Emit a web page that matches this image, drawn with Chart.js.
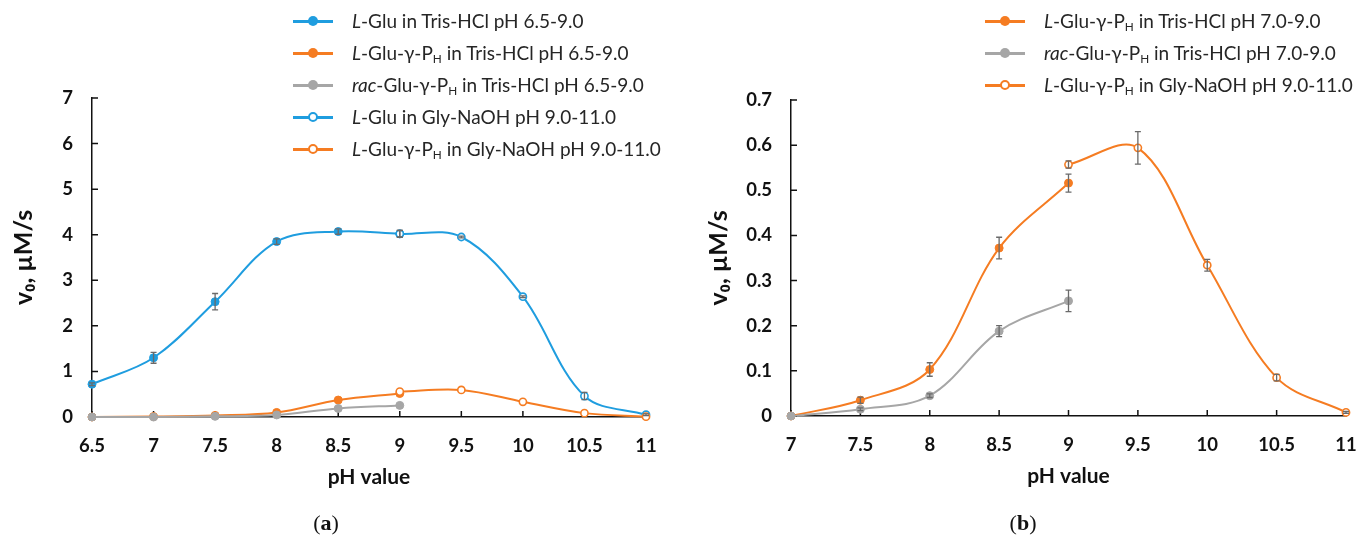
<!DOCTYPE html>
<html>
<head>
<meta charset="utf-8">
<script src="https://cdn.jsdelivr.net/npm/chart.js@4.4.1/dist/chart.umd.min.js"></script>
<style>
    body { margin: 0; width: 1357px; height: 546px; overflow: hidden; background: #fff; position: relative; font-family: Lato, sans-serif; }
    canvas { position: absolute; top: 0; }
    #chart-a { left: 0; }
    #chart-b { left: 680px; }
    .legend { position: absolute; top: 0; font-family: Lato, sans-serif; font-size: 19px; color: #262626; }
    .legend-item { position: absolute; left: 0; white-space: nowrap; height: 22px; line-height: 22px; }
    .swatch { position: absolute; left: 0; top: 10px; width: 40px; height: 2.5px; }
    .dot { position: absolute; left: 15px; top: -4px; width: 10px; height: 10px; border-radius: 50%; box-sizing: border-box; }
    .legend-text { position: absolute; left: 59px; top: 0; }
    .legend-text sub { font-size: 0.62em; vertical-align: -0.25em; line-height: 0; }
    .caption { position: absolute; top: 510px; font-family: "Liberation Serif", serif; font-size: 22px; color: #111; transform: translateX(-50%); }
</style>
</head>
<body>
<canvas id="chart-a" width="680" height="546"></canvas>
<canvas id="chart-b" width="700" height="546"></canvas>
<div class="legend" id="legend-a" style="left:293px"></div>
<div class="legend" id="legend-b" style="left:985px"></div>
<div class="caption" style="left:326px">(<b>a</b>)</div>
<div class="caption" style="left:1023px">(<b>b</b>)</div>
<script>
// pH values
const phTrisA = [6.5, 7, 7.5, 8, 8.5, 9];
const phTrisB = [7, 7.5, 8, 8.5, 9];
const phGly = [9, 9.5, 10, 10.5, 11];

// panel (a) values, uM/s
const gluTrisA = [0.72, 1.30, 2.53, 3.85, 4.07, 4.02];
const gluTrisErrA = [0.03, 0.12, 0.18, 0.06, 0.06, 0.07];
const phTrisValsA = [0, 0.01, 0.035, 0.10, 0.372, 0.516];
const racTrisA = [0, 0, 0.015, 0.045, 0.188, 0.255];
const gluGly = [4.02, 3.95, 2.64, 0.46, 0.05];
const gluGlyErr = [0.08, 0.02, 0.02, 0.08, 0.02];

// panel (b) values, uM/s
const phTrisVals = [0, 0.035, 0.103, 0.372, 0.516];
const phTrisErr = [0, 0.007, 0.015, 0.024, 0.02];
const racTris = [0, 0.015, 0.045, 0.188, 0.255];
const racTrisErr = [0, 0.003, 0.004, 0.012, 0.024];
const phGlyVals = [0.557, 0.594, 0.334, 0.085, 0.008];
const phGlyErr = [0.008, 0.036, 0.013, 0.007, 0.002];

// ticks
const xTicksA = [6.5, 7, 7.5, 8, 8.5, 9, 9.5, 10, 10.5, 11];
const yTicksA = [0, 1, 2, 3, 4, 5, 6, 7];
const xTicksB = [7, 7.5, 8, 8.5, 9, 9.5, 10, 10.5, 11];
const yTicksB = [0, 0.1, 0.2, 0.3, 0.4, 0.5, 0.6, 0.7];

// legend labels
const legendA = [
    '<i>L</i>-Glu in Tris-HCl pH 6.5-9.0',
    '<i>L</i>-Glu-\u03b3-P<sub>H</sub> in Tris-HCl pH 6.5-9.0',
    '<i>rac</i>-Glu-\u03b3-P<sub>H</sub> in Tris-HCl pH 6.5-9.0',
    '<i>L</i>-Glu in Gly-NaOH pH 9.0-11.0',
    '<i>L</i>-Glu-\u03b3-P<sub>H</sub> in Gly-NaOH pH 9.0-11.0'
];
const legendB = [
    '<i>L</i>-Glu-\u03b3-P<sub>H</sub> in Tris-HCl pH 7.0-9.0',
    '<i>rac</i>-Glu-\u03b3-P<sub>H</sub> in Tris-HCl pH 7.0-9.0',
    '<i>L</i>-Glu-\u03b3-P<sub>H</sub> in Gly-NaOH pH 9.0-11.0'
];

const BLUE = '#1f9ddf';
const ORANGE = '#f57c22';
const GRAY = '#a6a6a6';
const ERR = '#6a6a6a';

function series(xs, ys, errs, color, open, order) {
    return {
        data: xs.map((x, i) => ({ x: x, y: ys[i] })),
        errors: errs,
        color: color,
        open: open,
        borderColor: color,
        borderWidth: 2,
        pointRadius: open ? 3.6 : 4,
        pointBorderWidth: open ? 1.6 : 1,
        pointBorderColor: color,
        pointBackgroundColor: open ? '#fff' : color,
        tension: 0.35,
        clip: false,
        order: order
    };
}

// error bars from the dataset's errors array
const errorBars = {
    id: 'errorBars',
    afterDatasetsDraw(chart) {
        const ctx = chart.ctx;
        const y = chart.scales.y;
        ctx.save();
        ctx.strokeStyle = ERR;
        ctx.lineWidth = 1.3;
        chart.data.datasets.forEach((ds, di) => {
            if (!ds.errors) return;
            const meta = chart.getDatasetMeta(di);
            ds.data.forEach((p, i) => {
                const e = ds.errors[i];
                if (!e) return;
                const px = meta.data[i].x;
                const top = y.getPixelForValue(p.y + e);
                const bot = y.getPixelForValue(p.y - e);
                if (bot - top < 1.5) return;
                ctx.beginPath();
                ctx.moveTo(px, top); ctx.lineTo(px, bot);
                ctx.moveTo(px - 3, top); ctx.lineTo(px + 3, top);
                ctx.moveTo(px - 3, bot); ctx.lineTo(px + 3, bot);
                ctx.stroke();
            });
        });
        ctx.restore();
    }
};

// tick marks drawn inward
const innerTicks = {
    id: 'innerTicks',
    beforeDatasetsDraw(chart) {
        const ctx = chart.ctx;
        const { x, y } = chart.scales;
        ctx.save();
        ctx.strokeStyle = '#111';
        ctx.lineWidth = 1.5;
        ctx.beginPath();
        x.ticks.forEach(t => {
            const px = x.getPixelForValue(t.value);
            ctx.moveTo(px, y.bottom); ctx.lineTo(px, y.bottom - 6);
        });
        y.ticks.forEach(t => {
            const py = y.getPixelForValue(t.value);
            ctx.moveTo(x.left, py); ctx.lineTo(x.left + 6, py);
        });
        ctx.stroke();
        ctx.restore();
    }
};

function makeOptions(xTicks, yTicks, yMax, layout, yAxisWidth, yTitlePad) {
    const tickFont = { family: 'Lato', size: 18.5, weight: 'bold' };
    return {
        responsive: false,
        animation: false,
        events: [],
        layout: { padding: layout },
        plugins: { legend: { display: false }, tooltip: { enabled: false } },
        scales: {
            x: {
                type: 'linear',
                min: xTicks[0],
                max: xTicks[xTicks.length - 1],
                afterBuildTicks: s => { s.ticks = xTicks.map(v => ({ value: v })); },
                afterFit: s => { s.height = 73; },
                ticks: { font: tickFont, color: '#111', padding: 18, callback: v => String(v), maxRotation: 0 },
                grid: { display: false, drawTicks: false },
                border: { color: '#111', width: 1.5 },
                title: { display: true, text: 'pH value', color: '#111', padding: 0,
                         font: { family: 'Lato', size: 21, weight: 'bold' } }
            },
            y: {
                min: 0,
                max: yMax,
                afterBuildTicks: s => { s.ticks = yTicks.map(v => ({ value: v })); },
                afterFit: s => { s.width = yAxisWidth; },
                ticks: { font: tickFont, color: '#111', padding: 19, callback: v => String(v) },
                grid: { display: false, drawTicks: false },
                border: { color: '#111', width: 1.5 },
                title: { display: true, text: 'v\u2080, \u00b5M/s', color: '#111',
                         padding: { top: yTitlePad, bottom: 0 },
                         font: { family: 'Lato', size: 25, weight: 'bold' } }
            }
        }
    };
}

function buildLegend(el, labels, datasets) {
    labels.forEach((label, i) => {
        const ds = datasets[i];
        const item = document.createElement('div');
        item.className = 'legend-item';
        item.style.top = (10 + i * 32) + 'px';
        const sw = document.createElement('span');
        sw.className = 'swatch';
        sw.style.background = ds.color;
        const dot = document.createElement('span');
        dot.className = 'dot';
        dot.style.background = ds.open ? '#fff' : ds.color;
        dot.style.border = ds.open ? '2px solid ' + ds.color : 'none';
        sw.appendChild(dot);
        const txt = document.createElement('span');
        txt.className = 'legend-text';
        txt.innerHTML = label;
        item.appendChild(sw);
        item.appendChild(txt);
        el.appendChild(item);
    });
}

// Panel (a)
const datasetsA = [
    series(phTrisA, gluTrisA, gluTrisErrA, BLUE, false, 5),
    series(phTrisA, phTrisValsA, null, ORANGE, false, 4),
    series(phTrisA, racTrisA, null, GRAY, false, 3),
    series(phGly, gluGly, gluGlyErr, BLUE, true, 2),
    series(phGly, phGlyVals, null, ORANGE, true, 1)
];
new Chart(document.getElementById('chart-a').getContext('2d'), {
    type: 'line',
    data: { datasets: datasetsA },
    options: makeOptions(xTicksA, yTicksA, 7, { top: 98, left: 0, right: 34, bottom: 56 }, 92, 9),
    plugins: [innerTicks, errorBars]
});
buildLegend(document.getElementById('legend-a'), legendA, datasetsA);

// Panel (b)
const datasetsB = [
    series(phTrisB, phTrisVals, phTrisErr, ORANGE, false, 3),
    series(phTrisB, racTris, racTrisErr, GRAY, false, 2),
    series(phGly, phGlyVals, phGlyErr, ORANGE, true, 1)
];
new Chart(document.getElementById('chart-b').getContext('2d'), {
    type: 'line',
    data: { datasets: datasetsB },
    options: makeOptions(xTicksB, yTicksB, 0.7, { top: 100, left: 0, right: 34, bottom: 57 }, 111, 24),
    plugins: [innerTicks, errorBars]
});
buildLegend(document.getElementById('legend-b'), legendB, datasetsB);
</script>
</body>
</html>
